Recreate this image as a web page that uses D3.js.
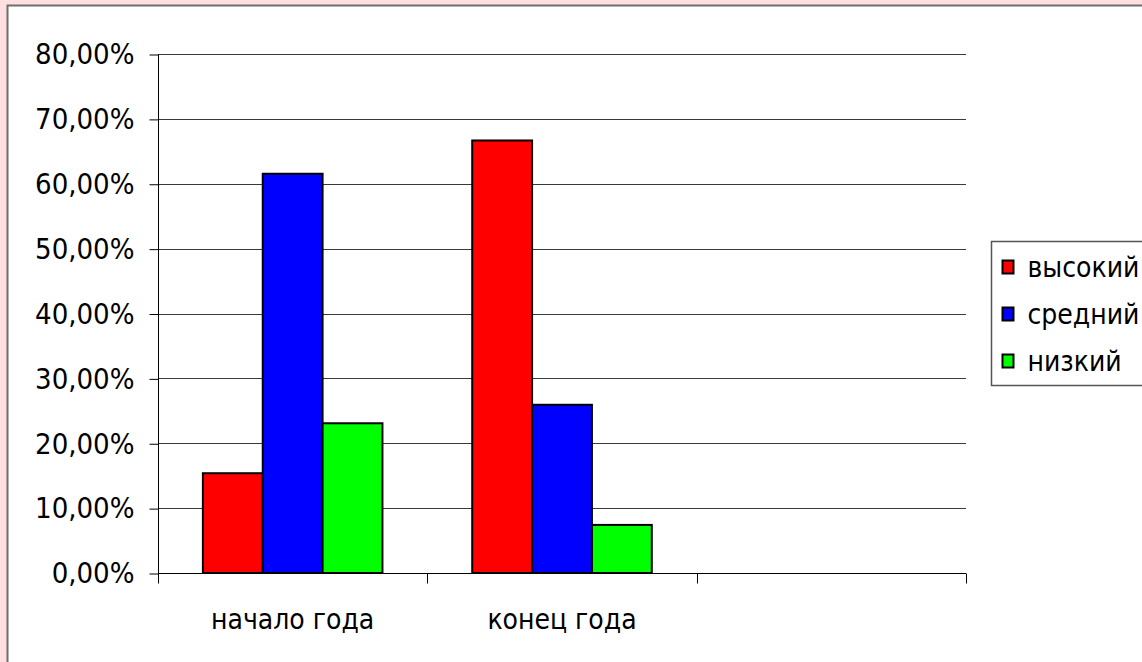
<!DOCTYPE html>
<html>
<head>
<meta charset="utf-8">
<script src="https://cdn.jsdelivr.net/npm/d3@7"></script>
<style>
  body { margin: 0; background: #ffdfe0; }
  text { font-family: "DejaVu Sans Condensed", "DejaVu Sans", sans-serif; fill: #000; }
</style>
</head>
<body>
<div class="chart"></div>
<script>
const categories = ['начало года', 'конец года', ''];
const seriesNames = ['высокий', 'средний', 'низкий'];
const seriesColors = ['#ff0000', '#0000ff', '#00ff00'];
const high = [0.1538, 0.6667];
const middle = [0.6154, 0.2593];
const low = [0.2308, 0.0741];
const yTicks = [0, 0.1, 0.2, 0.3, 0.4, 0.5, 0.6, 0.7, 0.8];

function drawChart() {
  const w = 1142;
  const h = 662;
  const plot = { left: 158, right: 966, top: 54, bottom: 573 };

  const svg = d3.select('.chart')
    .append('svg')
    .attr('width', w)
    .attr('height', h)
    .style('display', 'block');

  // pink slide background + white chart frame
  svg.append('rect')
    .attr('width', w)
    .attr('height', h)
    .attr('fill', '#ffdfe0');
  svg.append('rect')
    .attr('x', 7.5)
    .attr('y', 5.5)
    .attr('width', w + 20)
    .attr('height', h + 20)
    .attr('fill', '#fff')
    .attr('stroke', '#6e6e6e')
    .attr('stroke-width', 2);

  const locale = d3.formatLocale({ decimal: ',', thousands: ' ', grouping: [3], currency: ['', ''] });
  const fmt = locale.format('.2%');

  const y = d3.scaleLinear()
    .domain([0, 0.8])
    .range([plot.bottom, plot.top]);

  const x = d3.scaleBand()
    .domain(categories)
    .range([plot.left, plot.right]);

  const bw = x.bandwidth() / 4.5;
  const xs = d3.scaleBand()
    .domain(seriesNames)
    .range([bw * 0.75, bw * 3.75]);

  // gridlines
  svg.append('g')
    .selectAll('line')
    .data(yTicks.slice(1))
    .enter()
    .append('line')
    .attr('x1', plot.left)
    .attr('x2', plot.right)
    .attr('y1', d => Math.round(y(d)) + 0.5)
    .attr('y2', d => Math.round(y(d)) + 0.5)
    .attr('stroke', '#3a3a3a')
    .attr('stroke-width', 1);

  // bars
  const values = [high, middle, low];
  const rows = [];
  categories.forEach((c, i) => {
    seriesNames.forEach((s, j) => {
      if (values[j][i] !== undefined) rows.push({ cat: c, name: s, color: seriesColors[j], value: values[j][i] });
    });
  });

  svg.append('g')
    .selectAll('rect')
    .data(rows)
    .enter()
    .append('rect')
    .attr('x', d => x(d.cat) + xs(d.name))
    .attr('y', d => y(d.value))
    .attr('width', xs.bandwidth())
    .attr('height', d => y(0) - y(d.value))
    .attr('fill', d => d.color)
    .attr('stroke', '#000')
    .attr('stroke-width', 2);

  // y axis
  const yAxis = svg.append('g')
    .attr('transform', `translate(${plot.left + 0.5}, 0.5)`)
    .call(d3.axisLeft(y).tickValues(yTicks).tickFormat(fmt).tickSize(9).tickSizeOuter(0).tickPadding(15));
  yAxis.select('.domain').attr('d', `M0,${plot.top}V${plot.bottom + 9}`);
  yAxis.selectAll('line').attr('stroke', '#000');
  yAxis.selectAll('text')
    .style('font-size', '29px')
    .style('font-family', '"DejaVu Sans Condensed", "DejaVu Sans", sans-serif');

  // x axis: ticks at band boundaries, labels at band centres
  const xAxis = svg.append('g')
    .attr('transform', `translate(0, ${plot.bottom + 0.5})`);
  xAxis.append('line')
    .attr('x1', plot.left)
    .attr('x2', plot.right)
    .attr('stroke', '#000');
  xAxis.selectAll('line.tick')
    .data(categories.map(c => x(c)).concat([plot.right]))
    .enter()
    .append('line')
    .attr('class', 'tick')
    .attr('x1', d => Math.round(d) + 0.5)
    .attr('x2', d => Math.round(d) + 0.5)
    .attr('y1', 0)
    .attr('y2', 10)
    .attr('stroke', '#000');
  xAxis.selectAll('text')
    .data(categories)
    .enter()
    .append('text')
    .attr('x', d => x(d) + x.bandwidth() / 2)
    .attr('y', 55)
    .attr('text-anchor', 'middle')
    .style('font-size', '28px')
    .text(d => d);

  // legend
  const legend = svg.append('g')
    .attr('transform', 'translate(991.5, 241.5)');
  legend.append('rect')
    .attr('width', 200)
    .attr('height', 144)
    .attr('fill', '#fff')
    .attr('stroke', '#555')
    .attr('stroke-width', 1.5);
  const item = legend.selectAll('g.item')
    .data(seriesNames)
    .enter()
    .append('g')
    .attr('class', 'item')
    .attr('transform', (d, i) => `translate(0, ${26 + i * 47})`);
  item.append('rect')
    .attr('x', 11)
    .attr('y', -7)
    .attr('width', 11)
    .attr('height', 13)
    .attr('fill', (d, i) => seriesColors[i])
    .attr('stroke', '#000')
    .attr('stroke-width', 2);
  item.append('text')
    .attr('x', 36)
    .attr('dy', '0.35em')
    .style('font-size', '28px')
    .text(d => d);
}

drawChart();
</script>
</body>
</html>
